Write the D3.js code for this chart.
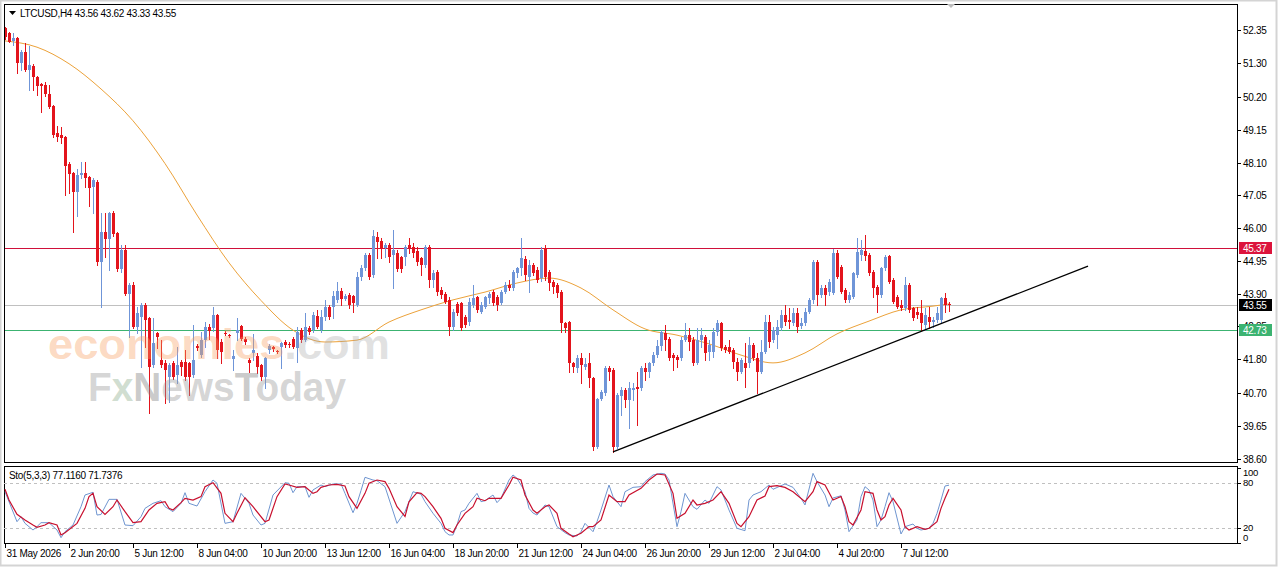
<!DOCTYPE html>
<html>
<head>
<meta charset="utf-8">
<script src="https://cdn.jsdelivr.net/npm/d3@7"></script>
<style>
  html, body { margin: 0; padding: 0; background: #fff; }
  svg { display: block; font-family: "Liberation Sans", Arial, sans-serif; }
  .lbl { letter-spacing: -0.3px; }
</style>
</head>
<body>
<svg id="chart" width="1280" height="567"></svg>
<script>
// LTCUSD H4 candles: [open, high, low, close]
const candles = [
  [52.41,52.45,52.05,52.13],[52.25,52.28,51.95,51.97],[52.00,52.25,51.87,52.09],[52.09,52.12,50.97,51.29],
  [51.29,51.71,51.07,51.64],[51.64,51.93,51.05,51.07],[51.07,51.84,50.43,51.23],[51.20,51.25,50.43,50.84],
  [50.84,50.88,50.27,50.56],[50.62,50.65,49.72,50.56],[50.59,50.68,50.25,50.30],[50.30,50.59,49.85,49.88],
  [49.91,49.95,48.92,48.98],[49.05,49.27,48.79,48.92],[48.98,49.24,48.73,48.89],[48.92,48.95,47.06,47.99],
  [48.06,48.12,47.13,47.73],[47.77,47.80,45.88,47.16],[47.16,47.90,46.39,47.70],[47.70,48.12,47.61,47.77],
  [47.77,48.12,47.32,47.61],[47.64,47.68,46.71,47.29],[47.32,47.61,46.48,47.54],[47.48,47.54,44.82,44.91],
  [44.91,46.48,43.47,45.88],[45.88,46.48,45.07,45.65],[45.65,46.52,44.66,46.48],[46.48,46.55,45.75,45.81],
  [45.84,45.88,44.62,44.69],[44.69,45.46,44.59,45.30],[45.30,45.46,43.85,43.89],[43.89,44.24,42.51,44.18],
  [44.18,44.27,42.80,42.83],[42.83,43.47,42.64,43.28],[43.15,43.60,41.55,43.54],[43.54,43.60,42.19,43.06],
  [43.12,43.15,40.08,41.55],[41.61,43.12,41.55,42.32],[42.64,42.66,42.16,42.51],[41.77,42.41,41.55,41.61],
  [41.68,41.77,40.40,41.45],[41.23,41.68,40.43,41.61],[41.68,41.75,41.15,41.23],[41.29,42.19,41.04,41.61],
  [41.71,41.77,41.29,41.55],[41.71,42.09,41.13,41.23],[41.68,41.71,40.65,41.23],[41.29,42.90,41.23,41.77],
  [42.22,42.28,42.10,42.16],[41.93,42.67,41.87,42.41],[42.41,42.99,42.19,42.83],[42.83,42.93,42.45,42.70],
  [42.80,43.47,42.70,43.20],[43.22,43.25,41.84,42.09],[42.35,42.45,41.68,42.03],[42.65,42.70,42.58,42.62],
  [42.58,42.62,42.50,42.55],[41.80,42.09,41.45,41.90],[42.64,43.12,42.41,42.73],[42.87,42.90,42.41,42.45],
  [42.45,42.50,42.30,42.35],[41.77,41.84,41.39,41.68],[42.00,42.60,41.77,42.09],[41.90,42.00,41.35,41.55],
  [41.61,41.65,41.13,41.23],[41.23,41.87,40.88,41.84],[42.09,42.30,42.00,42.22],[42.19,42.22,42.06,42.12],
  [42.05,42.09,42.00,42.03],[42.20,42.35,41.52,42.32],[42.35,42.40,42.20,42.26],[42.30,42.35,42.20,42.25],
  [42.45,42.50,42.15,42.19],[42.16,42.83,41.71,42.67],[42.73,42.80,42.35,42.41],[42.41,43.28,42.38,42.83],
  [42.80,42.85,42.60,42.67],[42.73,43.31,42.67,43.22],[43.18,43.38,42.80,42.83],[42.73,43.38,42.67,43.15],
  [43.15,43.70,43.06,43.47],[43.47,43.55,43.10,43.15],[43.47,43.98,43.12,43.82],[43.70,44.27,43.63,43.98],
  [43.98,44.08,43.54,43.73],[43.73,43.89,43.70,43.82],[43.85,43.92,43.44,43.54],[43.82,43.85,43.31,43.60],
  [43.54,44.59,43.50,44.43],[44.43,44.82,44.34,44.72],[44.72,45.20,44.66,45.14],[45.14,45.20,44.37,44.43],
  [44.50,45.94,44.43,45.75],[45.72,45.88,45.05,45.56],[45.59,45.68,45.05,45.37],[45.37,45.52,45.07,45.46],
  [45.46,45.52,44.91,45.07],[45.14,45.94,44.08,45.30],[45.20,45.30,44.62,44.69],[45.07,45.10,44.59,44.69],
  [45.07,45.46,44.82,45.40],[45.46,45.68,45.20,45.37],[45.40,45.52,45.07,45.20],[45.27,45.40,44.82,44.91],
  [45.04,45.07,44.50,44.82],[44.82,45.46,44.75,45.40],[45.40,45.46,44.11,44.34],[44.34,44.66,44.11,44.56],
  [44.59,44.66,43.85,43.95],[44.02,44.11,43.76,43.85],[43.89,43.95,43.60,43.63],[43.70,43.79,42.57,42.83],
  [42.83,43.41,42.73,43.31],[43.57,43.63,43.22,43.28],[43.60,43.63,42.73,42.80],[43.15,43.22,42.83,42.90],
  [42.99,43.76,42.90,43.63],[43.54,44.18,43.47,43.76],[43.79,43.82,43.31,43.38],[43.31,43.63,43.28,43.54],
  [43.47,43.82,43.44,43.79],[43.76,43.95,43.60,43.89],[43.95,44.02,43.54,43.60],[43.79,43.85,43.38,43.54],
  [43.60,44.02,43.57,43.95],[43.95,44.27,43.92,44.18],[44.18,44.34,44.02,44.08],[44.08,44.66,44.02,44.59],
  [44.56,44.75,44.43,44.72],[44.72,45.68,44.50,45.04],[45.00,45.10,44.34,44.50],[44.43,44.98,43.95,44.82],
  [44.82,44.88,44.50,44.56],[44.66,44.75,44.27,44.34],[44.40,45.40,44.30,45.30],[45.37,45.46,44.34,44.43],
  [44.59,44.66,44.02,44.24],[44.27,44.34,43.92,44.11],[44.18,44.24,43.79,43.92],[43.95,44.02,42.67,42.96],
  [42.96,43.00,42.67,42.80],[42.99,43.02,41.39,41.68],[41.68,41.71,41.39,41.55],[41.52,41.93,41.39,41.84],
  [41.84,42.00,41.04,41.61],[41.55,41.84,41.50,41.65],[41.68,42.00,40.91,41.20],[41.20,41.23,38.89,38.99],
  [38.99,40.56,38.95,40.53],[40.53,40.81,40.49,40.75],[40.72,41.58,40.65,41.52],[41.52,41.58,41.13,41.39],
  [41.45,41.52,38.83,38.99],[38.99,40.72,38.95,40.65],[40.62,40.91,40.01,40.81],[40.81,40.88,40.27,40.49],
  [40.49,41.07,39.59,40.88],[40.81,41.04,40.49,40.88],[40.91,41.39,39.69,40.85],[40.88,41.58,40.81,41.52],
  [41.52,41.68,41.13,41.39],[41.39,41.71,41.23,41.68],[41.68,42.03,41.61,41.93],[41.93,42.41,41.87,42.22],
  [42.22,42.73,42.09,42.67],[42.64,42.90,42.09,42.41],[42.45,42.51,41.77,41.84],[41.93,42.00,41.45,41.84],
  [41.87,41.93,41.55,41.77],[41.84,42.51,41.77,42.41],[42.41,42.96,42.38,42.57],[42.57,42.80,42.09,42.35],
  [42.41,42.51,41.61,41.68],[41.68,42.80,41.65,42.41],[42.41,42.80,42.19,42.57],[42.51,42.57,41.77,42.00],
  [42.03,42.41,41.77,42.25],[42.03,42.80,41.87,42.67],[42.67,43.06,42.57,42.96],[42.96,42.99,42.09,42.16],
  [42.19,42.25,42.03,42.09],[42.19,42.41,42.00,42.03],[42.09,42.16,41.52,41.71],[41.71,41.84,41.13,41.39],
  [41.39,41.84,41.36,41.77],[41.68,42.32,40.91,41.52],[41.68,42.51,41.55,42.25],[42.25,42.32,41.77,41.84],
  [41.84,42.00,40.72,41.39],[41.39,42.41,41.36,42.03],[42.03,43.22,42.00,42.99],[42.99,43.22,42.19,42.35],
  [42.41,42.83,42.35,42.73],[42.57,43.06,42.16,42.83],[42.80,43.38,42.73,43.22],[43.22,43.54,42.90,42.99],
  [43.06,43.44,42.80,42.99],[42.96,43.44,42.90,43.28],[43.28,43.44,42.67,42.83],[42.86,43.12,42.80,42.96],
  [42.96,43.44,42.90,43.31],[43.31,43.76,43.28,43.70],[43.70,44.98,43.60,44.91],[44.91,44.98,43.54,43.85],
  [43.85,44.18,43.79,44.08],[44.08,44.18,43.54,43.85],[43.95,44.37,43.85,44.27],[43.92,45.33,43.89,45.20],
  [45.20,45.30,44.40,44.43],[44.75,44.82,43.92,43.95],[44.02,44.08,43.63,43.70],[43.70,43.95,43.63,43.85],
  [43.79,44.59,43.76,44.56],[44.50,45.68,44.43,45.23],[45.14,45.62,44.98,45.30],[45.27,45.78,44.98,45.10],
  [45.14,45.20,44.50,44.56],[44.59,44.66,43.79,44.08],[44.11,44.18,43.31,43.85],[43.85,44.75,43.79,44.72],
  [44.72,45.14,44.66,45.07],[45.10,45.14,44.24,44.27],[44.34,44.40,43.60,43.63],[43.79,43.85,43.44,43.47],
  [43.54,43.70,43.38,43.44],[43.44,44.43,43.38,44.18],[44.18,44.24,43.31,43.38],[43.44,43.47,43.06,43.12],
  [43.31,43.47,43.12,43.22],[43.28,43.70,42.73,42.96],[42.90,43.44,42.73,43.22],[43.15,43.47,42.80,42.99],
  [42.99,43.15,42.83,43.06],[43.06,43.47,43.00,43.28],[43.06,43.79,43.00,43.76],[43.76,43.92,43.31,43.54],
  [43.56,43.62,43.33,43.55]
];

// moving average, read every 8 bars
const maBars   = [0, 8, 16, 24, 32, 40, 48, 56, 64, 72, 80, 88, 96, 104, 112, 120, 128, 136, 144, 152,
                  160, 168, 176, 184, 192, 200, 208, 216, 224, 232, 236];
const maValues = [52.00, 51.80, 51.27, 50.46, 49.44, 48.07, 46.42, 44.89, 43.68, 42.73, 42.35, 42.41, 42.99,
                  43.38, 43.70, 43.95, 44.24, 44.40, 44.08, 43.38, 42.77, 42.57, 42.29, 41.93, 41.68, 42.00,
                  42.61, 43.02, 43.38, 43.50, 43.57];

// Sto(5,3,3): [bar, value]
const stoK = [
  [0,68.4],[3,28.4],[4,35.1],[5,26.2],[7,17.3],[8,21.8],[9,27.1],[11,27.1],[13,17.3],[14,7.1],[15,15.1],
  [17,24.0],[19,48.4],[20,64.0],[22,67.6],[23,37.3],[24,38.0],[26,58.2],[28,58.2],[30,24.0],[32,23.1],
  [34,35.1],[35,46.2],[37,52.9],[39,56.4],[40,48.4],[42,41.8],[44,52.9],[45,67.1],[46,52.9],[48,49.3],
  [50,68.4],[52,84.0],[53,79.6],[55,26.2],[57,28.4],[59,66.2],[61,52.9],[62,37.3],[64,24.0],[65,26.2],
  [67,64.0],[70,80.4],[71,79.6],[72,67.1],[73,75.1],[75,75.1],[76,60.9],[77,70.7],[79,77.3],[80,75.1],
  [82,78.7],[84,78.7],[85,66.2],[87,40.4],[88,52.9],[89,70.0],[90,87.6],[92,84.0],[93,83.1],[95,75.1],
  [98,26.2],[100,41.8],[102,68.4],[104,65.0],[105,55.1],[107,39.6],[109,26.2],[110,15.1],[111,10.7],
  [112,10.7],[113,24.0],[114,41.8],[115,44.0],[116,52.9],[118,66.2],[119,55.1],[120,56.4],[122,64.0],
  [123,53.8],[124,59.6],[126,84.0],[127,90.7],[128,86.2],[130,68.4],[131,46.2],[132,40.0],[133,37.3],
  [134,44.0],[135,50.7],[136,48.4],[138,21.8],[140,13.8],[141,10.7],[143,9.3],[144,15.1],[145,26.2],
  [147,15.1],[148,28.4],[149,44.0],[151,77.3],[152,61.8],[154,48.4],[155,68.4],[157,74.2],[159,75.1],
  [160,81.8],[162,90.7],[164,92.9],[165,92.0],[166,84.0],[168,21.8],[169,41.8],[170,66.2],[172,48.4],
  [173,44.9],[175,57.3],[176,52.9],[178,75.1],[179,70.7],[181,44.0],[183,19.6],[185,16.4],[186,57.3],
  [187,64.0],[189,68.4],[191,77.3],[192,71.6],[195,78.7],[197,74.2],[199,59.6],[200,50.7],[202,92.9],
  [203,81.8],[205,64.0],[206,48.4],[207,60.0],[209,63.0],[210,44.0],[211,15.1],[213,30.7],[214,61.8],
  [215,75.1],[216,70.7],[217,57.3],[218,21.8],[219,30.7],[220,48.4],[221,67.1],[222,55.1],[224,12.0],
  [225,21.8],[227,25.3],[228,19.6],[229,17.3],[231,19.6],[232,26.2],[233,39.6],[234,57.3],[235,76.0],
  [236,77.116]
];
const stoD = [
  [0,71.6],[1,57.3],[3,38.2],[5,30.7],[7,24.0],[8,20.9],[10,24.0],[11,27.1],[13,24.0],[14,10.7],[15,13.8],
  [18,26.2],[20,46.2],[21,61.8],[22,66.2],[23,48.4],[25,38.2],[27,48.4],[28,57.3],[30,41.8],[32,27.1],
  [34,28.4],[36,44.0],[38,52.9],[40,55.1],[41,46.2],[42,44.0],[44,53.8],[45,59.6],[47,57.3],[49,61.8],
  [50,75.1],[52,80.4],[54,66.2],[55,39.6],[57,28.4],[58,39.6],[60,60.4],[62,48.4],[65,28.4],[66,30.7],
  [68,61.8],[70,78.7],[71,77.3],[73,74.2],[75,75.1],[77,66.2],[78,68.4],[79,74.2],[81,77.3],[83,78.2],
  [85,76.0],[86,61.8],[88,46.2],[90,66.2],[91,79.6],[93,84.0],[95,81.8],[96,72.9],[98,48.4],[100,35.5],
  [101,55.0],[103,67.1],[104,66.2],[105,61.8],[107,48.4],[109,32.9],[110,19.6],[112,13.8],[113,24.0],
  [115,39.6],[117,48.4],[118,59.6],[120,56.4],[121,59.6],[124,59.6],[126,77.3],[127,87.6],[129,84.0],
  [130,64.0],[132,44.0],[133,39.6],[135,48.4],[136,50.7],[138,39.6],[139,19.6],[141,12.0],[142,8.4],
  [144,12.9],[146,21.8],[147,21.8],[149,30.7],[151,64.0],[153,55.1],[155,55.1],[156,64.0],[159,72.9],
  [161,84.0],[163,92.0],[165,90.7],[167,66.2],[168,32.9],[170,39.6],[172,57.3],[173,50.7],[175,52.9],
  [177,57.3],[179,68.4],[181,52.9],[183,26.2],[184,21.8],[186,35.1],[188,57.3],[190,62.7],[191,75.1],
  [193,76.4],[195,74.2],[197,68.4],[200,55.1],[202,68.4],[203,81.8],[205,77.3],[207,57.3],[209,62.0],
  [210,48.4],[211,28.4],[212,24.0],[214,44.0],[215,68.4],[217,66.2],[218,44.0],[219,30.7],[220,35.1],
  [221,50.7],[222,59.6],[224,44.0],[225,21.8],[226,17.3],[228,21.8],[230,18.2],[231,19.6],[233,28.4],
  [234,46.2],[235,59.6],[236,71.7376]
];

const priceTicks = ["52.35","51.30","50.20","49.15","48.10","47.05","46.00","44.95","43.90","42.85",
                    "41.80","40.70","39.65","38.60"];
const stoTicks = [100, 80, 20, 0];
const stoLevels = [80, 20];
const dateLabels = ["31 May 2026","2 Jun 20:00","5 Jun 12:00","8 Jun 04:00","10 Jun 20:00","13 Jun 12:00",
                    "16 Jun 04:00","18 Jun 20:00","21 Jun 12:00","24 Jun 04:00","26 Jun 20:00","29 Jun 12:00",
                    "2 Jul 04:00","4 Jul 20:00","7 Jul 12:00"];
const barsPerLabel = 16;

const levelValues = [45.37, 43.55, 42.73];
const levelColors = ["#d0103a", "#c0c0c0", "#3cb371"];
const levelBoxColors = ["#dc143c", "#000000", "#3cb371"];

const trendBars = [152, 270.75];
const trendPrices = [38.83, 44.78];

const header = "LTCUSD,H4  43.56 43.62 43.33 43.55";
const stoHeader = "Sto(5,3,3) 77.1160 71.7376";

// ---------------------------------------------------------------
const svg = d3.select("#chart");
const W = 1280, H = 567;
const main = { left: 4, right: 1237, top: 4, bottom: 462 };
const sub  = { left: 4, right: 1237, top: 466, bottom: 543 };
const fs = 10;

const x  = d3.scaleLinear().domain([0, candles.length - 1]).range([5, 949]);
const y  = d3.scaleLinear().domain([38.60, 52.35]).range([459, 30]);
const ys = d3.scaleLinear().domain([0, 100]).range([543, 468]);

const bull = "#6f95d8", bear = "#e3141c";

svg.append("rect").attr("width", W).attr("height", H).attr("fill", "#fff");
svg.append("rect").attr("x", 0.5).attr("y", 0.5).attr("width", W - 4).attr("height", H - 2)
  .attr("fill", "none").attr("stroke", "#d4d4d4").attr("stroke-width", 2);

const defs = svg.append("defs");
defs.append("clipPath").attr("id", "clipMain")
  .append("rect").attr("x", main.left).attr("y", main.top)
  .attr("width", main.right - main.left).attr("height", main.bottom - main.top);
defs.append("clipPath").attr("id", "clipSub")
  .append("rect").attr("x", sub.left).attr("y", sub.top)
  .attr("width", sub.right - sub.left).attr("height", sub.bottom - sub.top);

const gMain = svg.append("g").attr("clip-path", "url(#clipMain)");

// horizontal levels
levelValues.forEach((v, i) => {
  const yy = Math.round(y(v)) + 0.5;
  gMain.append("line").attr("x1", main.left).attr("x2", main.right)
    .attr("y1", yy).attr("y2", yy).attr("stroke", levelColors[i]).attr("stroke-width", 1);
});

// moving average
const maLine = d3.line().x(d => x(d[0])).y(d => y(d[1])).curve(d3.curveMonotoneX);
gMain.append("path").datum(maBars.map((b, i) => [b, maValues[i]]))
  .attr("d", maLine).attr("fill", "none").attr("stroke", "#eca23a").attr("stroke-width", 1);

// candles
const cg = gMain.append("g");
candles.forEach((d, i) => {
  const [o, h, l, c] = d;
  const cx = Math.round(x(i));
  const col = c >= o ? bull : bear;
  cg.append("line").attr("x1", cx + 0.5).attr("x2", cx + 0.5)
    .attr("y1", Math.round(y(h))).attr("y2", Math.round(y(l)) + 1)
    .attr("stroke", col).attr("stroke-width", 1);
  const top = Math.round(y(Math.max(o, c)));
  const bot = Math.round(y(Math.min(o, c)));
  cg.append("rect").attr("x", cx - 1).attr("y", top).attr("width", 3)
    .attr("height", Math.max(1, bot - top)).attr("fill", col);
});

// trend line
gMain.append("line")
  .attr("x1", x(trendBars[0])).attr("y1", y(trendPrices[0]))
  .attr("x2", x(trendBars[1])).attr("y2", y(trendPrices[1]))
  .attr("stroke", "#000").attr("stroke-width", 1.3);

// watermark
const wm = svg.append("g").attr("font-family", "'Liberation Sans', Arial, sans-serif").attr("font-weight", "bold");
const wt = wm.append("text").attr("x", 48).attr("y", 359).attr("font-size", 42)
  .attr("textLength", 342).attr("lengthAdjust", "spacingAndGlyphs");
wt.append("tspan").text("economies").attr("fill", "#f7a062").attr("fill-opacity", 0.4);
wt.append("tspan").text(".com").attr("fill", "#a8a8a8").attr("fill-opacity", 0.35);
const ft = wm.append("text").attr("x", 88).attr("y", 401).attr("font-size", 40)
  .attr("textLength", 258).attr("lengthAdjust", "spacingAndGlyphs");
ft.append("tspan").text("F").attr("fill", "#9c9c9c").attr("fill-opacity", 0.42);
ft.append("tspan").text("x").attr("fill", "#8fb08f").attr("fill-opacity", 0.42);
ft.append("tspan").text("N").attr("fill", "#8a8a8a").attr("fill-opacity", 0.45);
ft.append("tspan").text("ews").attr("fill", "#9c9c9c").attr("fill-opacity", 0.42);
ft.append("tspan").text("T").attr("fill", "#8a8a8a").attr("fill-opacity", 0.45);
ft.append("tspan").text("oday").attr("fill", "#9c9c9c").attr("fill-opacity", 0.42);

// frames
svg.append("rect").attr("x", main.left + 0.5).attr("y", main.top + 0.5)
  .attr("width", main.right - main.left).attr("height", main.bottom - main.top)
  .attr("fill", "none").attr("stroke", "#000");
svg.append("rect").attr("x", sub.left + 0.5).attr("y", sub.top + 0.5)
  .attr("width", sub.right - sub.left).attr("height", sub.bottom - sub.top)
  .attr("fill", "none").attr("stroke", "#000");

// header
svg.append("path").attr("d", "M9,11 L16,11 L12.5,15 Z").attr("fill", "#000");
svg.append("text").attr("class", "lbl").attr("x", 20).attr("y", 16.5).attr("font-size", fs)
  .attr("fill", "#000").text(header);
svg.append("path").attr("d", "M947,4 L955,4 L951,8 Z").attr("fill", "#bdbdbd");

// price axis
const pa = svg.append("g").attr("class", "lbl").attr("font-size", fs).attr("fill", "#000");
priceTicks.forEach(t => {
  const yy = Math.round(y(+t)) + 0.5;
  pa.append("line").attr("x1", main.right).attr("x2", main.right + 4)
    .attr("y1", yy).attr("y2", yy).attr("stroke", "#000");
  pa.append("text").attr("x", main.right + 6).attr("y", yy).attr("dy", "0.35em").text(t);
});
levelValues.forEach((v, i) => {
  const yy = Math.round(y(v));
  pa.append("rect").attr("x", main.right + 2).attr("y", yy - 6).attr("width", 33).attr("height", 12)
    .attr("fill", levelBoxColors[i]);
  pa.append("text").attr("x", main.right + 6).attr("y", yy).attr("dy", "0.35em")
    .attr("fill", "#fff").text(v.toFixed(2));
});

// stochastic window
const gSub = svg.append("g").attr("clip-path", "url(#clipSub)");
stoLevels.forEach(v => {
  const yy = Math.round(ys(v)) + 0.5;
  gSub.append("line").attr("x1", sub.left).attr("x2", sub.right).attr("y1", yy).attr("y2", yy)
    .attr("stroke", "#c0c0c0").attr("stroke-dasharray", "3,3");
});
const sLine = d3.line().x(d => x(d[0])).y(d => ys(d[1]));
gSub.append("path").datum(stoK).attr("d", sLine).attr("fill", "none")
  .attr("stroke", "#6f95d0").attr("stroke-width", 1);
gSub.append("path").datum(stoD).attr("d", sLine).attr("fill", "none")
  .attr("stroke", "#c8102e").attr("stroke-width", 1.2);
svg.append("text").attr("class", "lbl").attr("x", 9).attr("y", 479).attr("font-size", fs).text(stoHeader);

const sa = svg.append("g").attr("class", "lbl").attr("font-size", 9.5).attr("fill", "#000");
stoTicks.forEach(v => {
  const yy = Math.min(Math.max(ys(v), 473), 538);
  sa.append("line").attr("x1", sub.right).attr("x2", sub.right + 4)
    .attr("y1", Math.round(ys(v)) + 0.5).attr("y2", Math.round(ys(v)) + 0.5).attr("stroke", "#000");
  sa.append("text").attr("x", sub.right + 6).attr("y", yy).attr("dy", "0.33em").text(v);
});

// time axis
const ta = svg.append("g").attr("class", "lbl").attr("font-size", fs).attr("fill", "#000");
dateLabels.forEach((t, k) => {
  const xx = Math.round(x(k * barsPerLabel)) + 0.5;
  ta.append("line").attr("x1", xx).attr("x2", xx).attr("y1", sub.bottom).attr("y2", sub.bottom + 5)
    .attr("stroke", "#000");
  ta.append("text").attr("x", xx + 1).attr("y", 557).text(t);
});
</script>
</body>
</html>
